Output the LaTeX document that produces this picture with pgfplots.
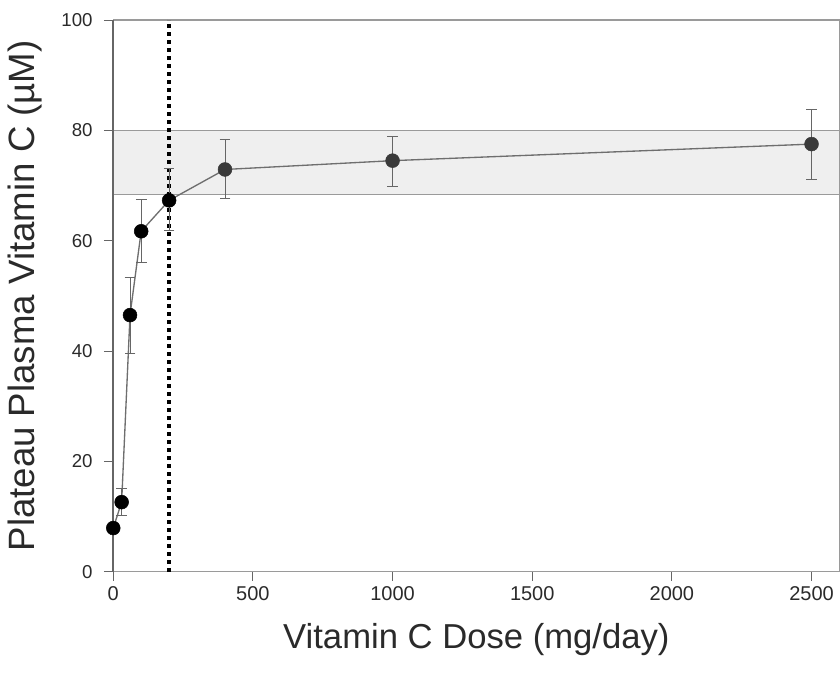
\documentclass[border=0pt]{standalone}
\usepackage{fontspec}
\setmainfont{Liberation Sans}
\usepackage{pgfplots}
\pgfplotsset{compat=1.18}
\definecolor{bandfill}{HTML}{EFEFEF}
\definecolor{bandline}{HTML}{9A9A9A}
\definecolor{linegray}{HTML}{6E6E6E}
\definecolor{errgray}{HTML}{666666}
\definecolor{darkpt}{HTML}{3A3A3A}
\definecolor{txt}{HTML}{2A2A2A}
\begin{document}
\begin{tikzpicture}
\begin{axis}[
  scale only axis,
  width=545pt, height=414pt,
  xmin=0, xmax=2600, ymin=0, ymax=100,
  clip=false,
  axis line style={draw=bandline, line width=0.8pt},
  xtick={0,500,1000,1500,2000,2500},
  ytick={0,20,40,60,80,100},
  xtick pos=bottom, ytick pos=left,
  tick align=outside,
  major tick length=7pt,
  tick style={draw=errgray, line width=0.7pt},
  /pgf/number format/assume math mode=true,
  /pgf/number format/set thousands separator={},
  xticklabel style={font=\fontsize{15}{15}\selectfont, text=txt, yshift=-1pt},
  yticklabel style={font=\fontsize{14}{14}\selectfont, text=txt, xshift=-5pt},
  xlabel={Vitamin C Dose (mg/day)},
  ylabel={Plateau Plasma Vitamin C (µM)},
  xlabel style={font=\fontsize{26}{26}\selectfont, text=txt, at={([yshift=-58pt]axis description cs:0.5,0)}, anchor=base},
  ylabel style={font=\fontsize{27.5}{27.5}\selectfont, text=txt, at={([xshift=-50pt]axis description cs:0,0.5)}, anchor=south},
]
% shaded band
\addplot[draw=none, fill=bandfill] coordinates {(0,68.3) (2600,68.3) (2600,80) (0,80)} -- cycle;
\addplot[bandline, line width=0.8pt] coordinates {(0,80) (2600,80)};
\addplot[bandline, line width=0.8pt] coordinates {(0,68.3) (2600,68.3)};
% dotted vertical line
\addplot[black, line width=3pt, dash pattern=on 3pt off 3pt] coordinates {(200,0) (200,100)};
% left axis line (darker)
\addplot[errgray, line width=1.6pt] coordinates {(0,0) (0,100)};
% line with error bars
\addplot[linegray, line width=1pt, no markers,
  error bars/.cd, y dir=both, y explicit,
  error bar style={errgray, line width=0.7pt},
  error mark options={errgray, rotate=90, mark size=4pt, line width=0.7pt}]
  table[x=x, y=y, y error plus=ep, y error minus=em] {
x y ep em
0 7.9 0 0
30 12.6 2.4 2.5
60 46.5 6.8 6.9
100 61.7 5.7 5.7
200 67.3 5.7 5.5
400 72.9 5.5 5.3
1000 74.5 4.4 4.7
2500 77.5 6.2 6.5
};
\addplot[only marks, mark=*, mark size=5.2pt, mark options={fill=black, draw=black}]
  coordinates {(0,7.9) (30,12.6) (60,46.5) (100,61.7) (200,67.3)};
\addplot[only marks, mark=*, mark size=5.2pt, mark options={fill=darkpt, draw=darkpt}]
  coordinates {(400,72.9) (1000,74.5) (2500,77.5)};
\end{axis}
\path (current axis.south west) ++(-85pt,-76pt) coordinate (bl);
\path (current axis.north east) ++(0pt,15pt) coordinate (tr);
\path (bl) rectangle (tr);
\end{tikzpicture}
\end{document}
